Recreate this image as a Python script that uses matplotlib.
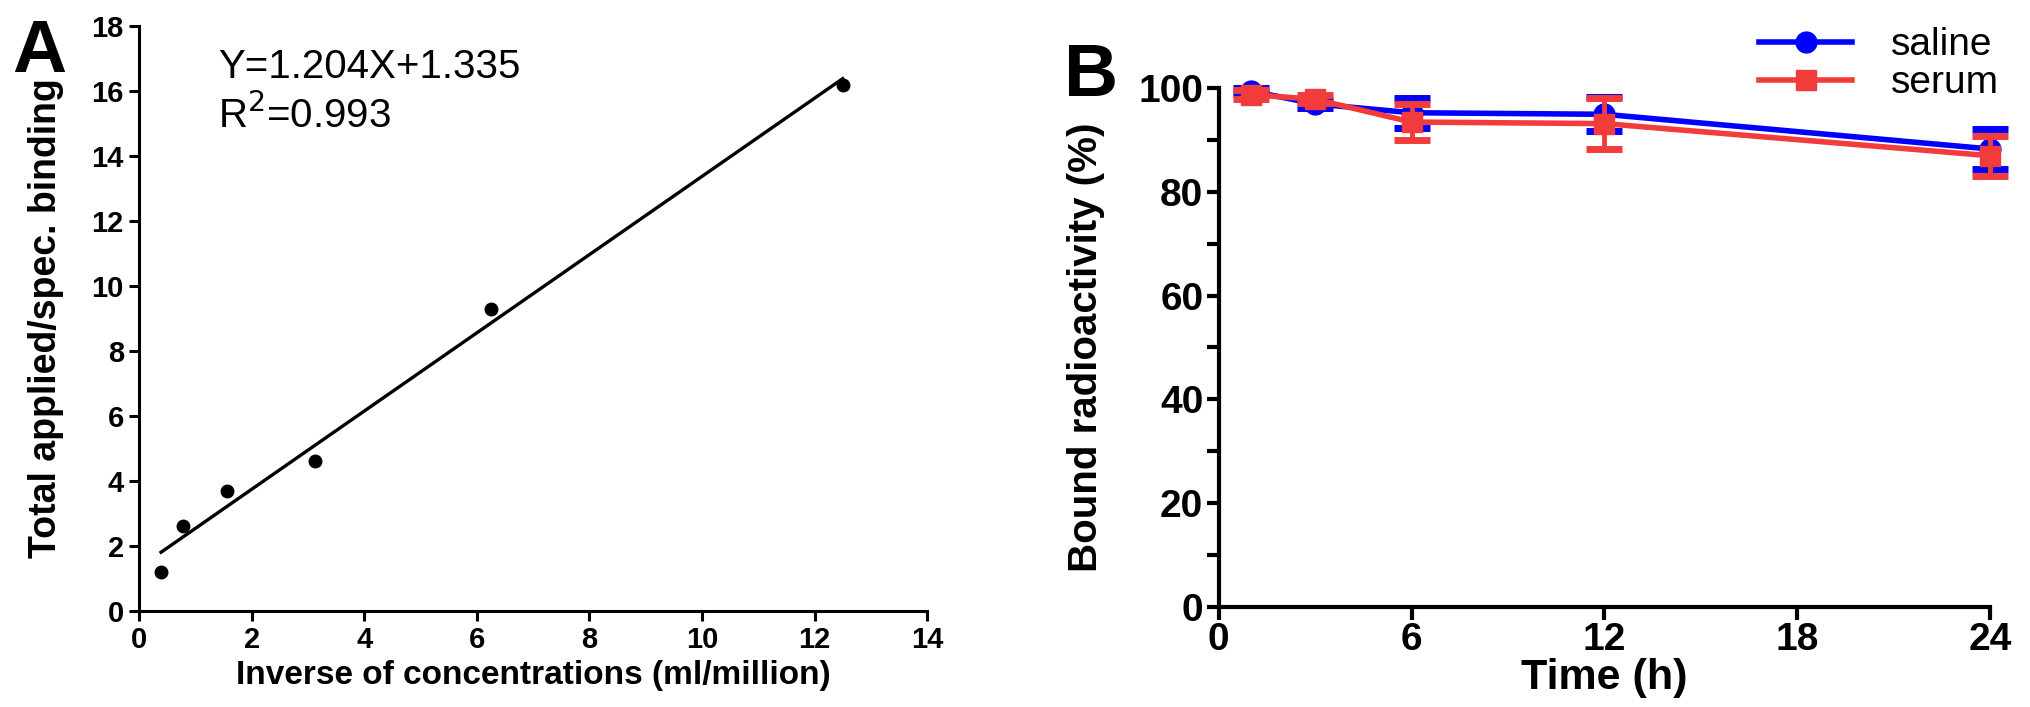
import numpy as np
import matplotlib
matplotlib.use('Agg')
import matplotlib.pyplot as plt
from matplotlib.ticker import MultipleLocator
from matplotlib.lines import Line2D

plt.rcParams['font.family'] = ['Liberation Sans', 'DejaVu Sans']

# Panel A data
inv_conc = [0.39, 0.78, 1.5625, 3.125, 6.25, 12.5]
ratio = [1.2, 2.6, 3.7, 4.6, 9.3, 16.2]
slope, intercept = 1.204, 1.335

# Panel B data
time_h = [1, 3, 6, 12, 24]
saline = [99.5, 97.0, 95.3, 95.0, 88.3]
saline_err = [0.5, 0.8, 2.9, 3.3, 3.8]
serum = [98.8, 97.9, 93.5, 93.2, 87.0]
serum_err = [0.8, 0.8, 3.4, 4.9, 3.9]

fig = plt.figure(figsize=(20.31, 7.07), dpi=100)

# ---- Panel A ----
ax1 = fig.add_axes([0.0685, 0.136, 0.388, 0.827])
ax1.plot(inv_conc, ratio, 'o', color='black', markersize=9, clip_on=False)
xfit = np.array([inv_conc[0], inv_conc[-1]])
ax1.plot(xfit, slope * xfit + intercept, '-', color='black', linewidth=2.4)
ax1.set_xlim(0, 14)
ax1.set_ylim(0, 18)
ax1.xaxis.set_major_locator(MultipleLocator(2))
ax1.yaxis.set_major_locator(MultipleLocator(2))
for s in ['top', 'right']:
    ax1.spines[s].set_visible(False)
for s in ['left', 'bottom']:
    ax1.spines[s].set_linewidth(2.2)
ax1.tick_params(width=2.2, length=7, labelsize=21, pad=4)
for lbl in ax1.get_xticklabels() + ax1.get_yticklabels():
    lbl.set_fontweight('bold')
ax1.set_xlabel('Inverse of concentrations (ml/million)', fontsize=24,
               fontweight='bold', labelpad=4)
ax1.set_ylabel('Total applied/spec. binding', fontsize=27,
               fontweight='bold', labelpad=20)
ax1.text(1.4, 16.4, 'Y=1.204X+1.335', fontsize=29, va='baseline')
ax1.text(1.4, 14.85, 'R$^2$=0.993', fontsize=29, va='baseline')
fig.text(0.006, 0.975, 'A', fontsize=54, fontweight='bold', va='top')

# ---- Panel B ----
blue = '#0000ff'
red = '#f23c3c'
ax2 = fig.add_axes([0.600, 0.142, 0.380, 0.733])
ax2.errorbar(time_h, saline, yerr=saline_err, color=blue, marker='o',
             markersize=15, linewidth=4, elinewidth=3.5, capsize=13,
             capthick=5, clip_on=False, zorder=3)
ax2.errorbar(time_h, serum, yerr=serum_err, color=red, marker='s',
             markersize=15, linewidth=4, elinewidth=3.5, capsize=13,
             capthick=5, clip_on=False, zorder=4)
ax2.set_xlim(0, 24)
ax2.set_ylim(0, 100)
ax2.xaxis.set_major_locator(MultipleLocator(6))
ax2.yaxis.set_major_locator(MultipleLocator(20))
ax2.yaxis.set_minor_locator(MultipleLocator(10))
for s in ['top', 'right']:
    ax2.spines[s].set_visible(False)
for s in ['left', 'bottom']:
    ax2.spines[s].set_linewidth(3)
ax2.tick_params(which='both', width=3, length=9, labelsize=28, pad=2)
for lbl in ax2.get_xticklabels() + ax2.get_yticklabels():
    lbl.set_fontweight('bold')
ax2.set_xlabel('Time (h)', fontsize=31, fontweight='bold', labelpad=0)
ax2.set_ylabel('Bound radioactivity (%)', fontsize=29, fontweight='bold',
               labelpad=24)
handles = [
    Line2D([], [], color=blue, marker='o', markersize=15, linewidth=4),
    Line2D([], [], color=red, marker='s', markersize=15, linewidth=4),
]
ax2.legend(handles, ['saline', 'serum'], loc='upper left',
           bbox_to_anchor=(0.665, 1.17), frameon=False, fontsize=28,
           handlelength=2.4, handletextpad=1.0, labelspacing=0.05,
           borderpad=0.2)
fig.text(0.524, 0.94, 'B', fontsize=54, fontweight='bold', va='top')

plt.savefig('out.png', dpi=100)
